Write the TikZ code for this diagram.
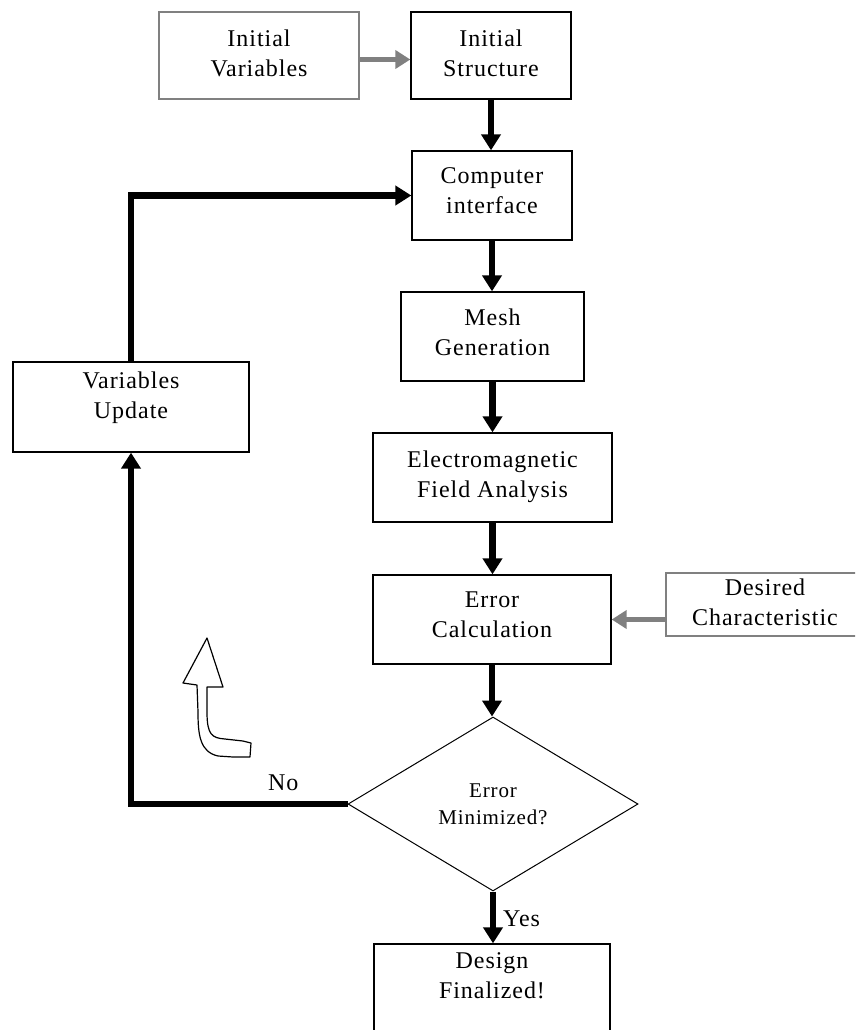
\documentclass[tikz,border=0pt]{standalone}
\usepackage{fontspec}
\setmainfont[LetterSpace=4]{Liberation Serif}
\usetikzlibrary{arrows.meta,shapes.geometric}
\newcommand\bx[4]{\begin{minipage}[c][#2pt][t]{#1pt}\centering\rule{0pt}{#3pt}#4\end{minipage}}
\tikzset{
  blk/.style={draw=black, line width=1.3pt, rectangle, inner sep=0pt, font=\fontsize{24}{30}\selectfont},
  gry/.style={draw=black!50, line width=1.3pt, rectangle, inner sep=0pt, font=\fontsize{24}{30}\selectfont},
  dia/.style={draw=black, line width=1pt, diamond, inner sep=0pt, minimum width=290pt, minimum height=174pt, align=center, font=\fontsize{21}{27}\selectfont},
  flow/.style={line width=6.5pt, line join=miter, -{Triangle[width=19pt,length=16pt]}},
  gflow/.style={draw=black!50, line width=5.5pt, -{Triangle[width=18pt,length=15pt]}},
  lbl/.style={anchor=base west, inner sep=0pt, font=\fontsize{24}{30}\selectfont}
}
\begin{document}
\begin{tikzpicture}[x=1pt,y=-1pt]
\useasboundingbox (0,0) rectangle (855,1030);
\clip (0,0) rectangle (855,1030);
\node[gry] (iv) at (259,55.5) {\bx{200}{87}{35}{Initial\\Variables}};
\node[blk] (is) at (491,55.5) {\bx{160}{87}{35}{Initial\\Structure}};
\node[blk] (ci) at (492,195.5) {\bx{160}{89}{32}{Computer\\interface}};
\node[blk] (mg) at (492.5,336.5) {\bx{183}{89}{33}{Mesh\\Generation}};
\node[blk] (em) at (492.5,477.5) {\bx{239}{89}{34}{Electromagnetic\\Field Analysis}};
\node[blk] (ec) at (492,619.5) {\bx{238}{89}{32}{Error\\Calculation}};
\node[gry] (dc) at (765,604.5) {\bx{198}{63}{22}{Desired\\Characteristic}};
\node[blk] (vu) at (131,407) {\bx{236}{90}{26}{Variables\\Update}};
\node[dia] (dm) at (493,804) {Error\\Minimized?};
\node[blk] (df) at (492,990) {\bx{236}{92}{24}{Design\\Finalized!}};

\draw[gflow] ([yshift=-4pt]iv.east) -- ([yshift=-4pt]is.west);
\draw[flow] (is.south) -- (is.south |- ci.north);
\draw[flow] (ci.south) -- (ci.south |- mg.north);
\draw[flow] (mg.south) -- (mg.south |- em.north);
\draw[flow] (em.south) -- (em.south |- ec.north);
\draw[flow] (ec.south) -- (ec.south |- dm.north);
\draw[gflow] (dc.west |- ec.east) -- (ec.east);
\draw[flow] (dm.south) -- (dm.south |- df.north);
\draw[flow] (dm.west) -| (vu.south);
\draw[flow] (vu.north) |- (ci.west);

\node[lbl] (yes) at (503,926) {Yes};
\node[lbl] (no) at (268,790) {No};

\draw[line width=1.2pt, line join=round] (207,638) -- (223,687) -- (207,687) -- (207,712)
  .. controls (207,735) and (212,738) .. (225,739) -- (243,741) -- (251,743) -- (250,757)
  -- (233,757) -- (218,756) .. controls (200,752) and (198,735) .. (198,712)
  -- (197,685) -- (183,683) -- cycle;
\end{tikzpicture}
\end{document}
